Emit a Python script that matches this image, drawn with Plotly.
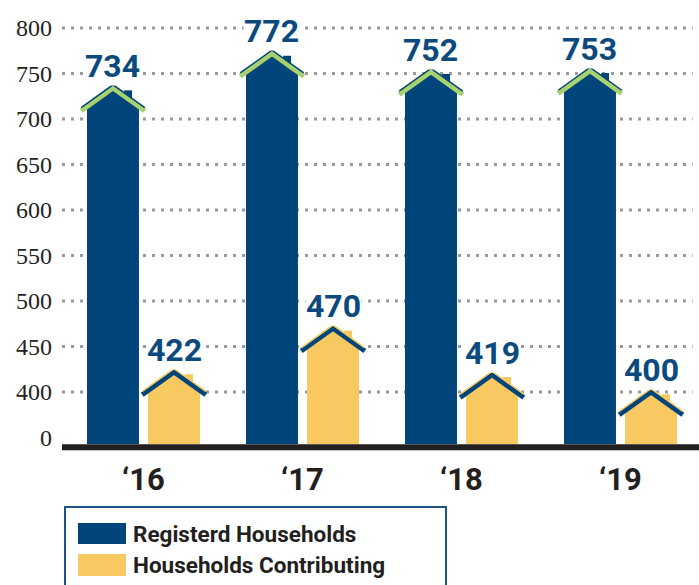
import plotly.graph_objects as go

# ---- data ----
years = ["\u201816", "\u201817", "\u201818", "\u201819"]
registered = [734, 772, 752, 753]
contributing = [422, 470, 419, 400]
series_names = ["Registerd Households", "Households Contributing"]
y_tick_vals = [350, 400, 450, 500, 550, 600, 650, 700, 750, 800]
y_tick_text = ["0", "400", "450", "500", "550", "600", "650", "700", "750", "800"]
grid_vals = [400, 450, 500, 550, 600, 650, 700, 750, 800]

# ---- style ----
BLUE = "#01457b"
YELLOW = "#f8c960"
GREEN = "#a8d26d"
LABEL_BLUE = "#0c4a7d"
DARK = "#231f20"
GRID = "#9a9a9a"
NARROW = "Roboto, Arial"

OFFSET = 0.192      # bar offset from category centre (x units)
BAR_W = 0.327       # bar width (x units)
ROOF_HALF = 0.20    # roof half width (x units)
ROOF_H = 25.0       # roof height (y units)

fig = go.Figure()


def add_house(xc, value, body, roof_col, edge_col):
    eave = value - ROOF_H
    hw = BAR_W / 2
    # body as a bar
    fig.add_trace(go.Bar(x=[xc], y=[eave], width=[BAR_W], marker=dict(color=body, line=dict(width=0)),
                         showlegend=False, hoverinfo="skip"))
    # chimney
    cx0, cx1 = xc + 0.07, xc + 0.12
    ctop = value - 2.5
    fig.add_trace(go.Scatter(x=[cx0, cx1, cx1, cx0, cx0], y=[eave - 2, eave - 2, ctop, ctop, eave - 2],
                             fill="toself", fillcolor=body, line=dict(width=0), mode="lines",
                             showlegend=False, hoverinfo="skip"))
    # roof fill (within bar width), overlapping the bar top slightly
    edge_y = eave + ROOF_H * (ROOF_HALF - hw) / ROOF_HALF
    low = eave - 2
    fig.add_trace(go.Scatter(x=[xc - hw, xc - hw, xc, xc + hw, xc + hw, xc - hw],
                             y=[low, edge_y, value, edge_y, low, low],
                             fill="toself", fillcolor=body, line=dict(width=0), mode="lines",
                             showlegend=False, hoverinfo="skip"))
    # roof band
    fig.add_trace(go.Scatter(x=[xc - ROOF_HALF, xc, xc + ROOF_HALF], y=[eave, value, eave],
                             mode="lines", line=dict(color=roof_col, width=5),
                             showlegend=False, hoverinfo="skip"))
    # thin edge above band
    fig.add_trace(go.Scatter(x=[xc - ROOF_HALF, xc, xc + ROOF_HALF], y=[eave + 3.6, value + 3.6, eave + 3.6],
                             mode="lines", line=dict(color=edge_col, width=1.5),
                             showlegend=False, hoverinfo="skip"))


annotations = []
for i, (r, c) in enumerate(zip(registered, contributing)):
    xb = i - OFFSET
    xy = i + OFFSET
    add_house(xb, r, BLUE, GREEN, BLUE)
    add_house(xy, c, YELLOW, BLUE, YELLOW)
    for xx, v in ((xb, r), (xy, c)):
        annotations.append(dict(x=xx, y=v, xref="x", yref="y", text=str(v), showarrow=False,
                                yanchor="middle", yshift=22, bgcolor="white", borderpad=0,
                                font=dict(family=NARROW, size=32, color=LABEL_BLUE, weight="bold")))

shapes = []
for g in grid_vals:
    shapes.append(dict(type="line", xref="paper", yref="y", x0=0, x1=0.99, y0=g, y1=g,
                       line=dict(color=GRID, width=3, dash="3px,6px"), layer="below"))
# baseline
shapes.append(dict(type="line", xref="paper", yref="paper", x0=0, x1=1, y0=-0.0075, y1=-0.0075,
                   line=dict(color=DARK, width=6), layer="above"))

# legend box
shapes.append(dict(type="rect", xref="paper", yref="paper", x0=0.0047, x1=0.6028, y0=-0.145, y1=-0.40,
                   line=dict(color="#1b5485", width=2), fillcolor="white"))
sw = [(-0.182, -0.2304, BLUE), (-0.2535, -0.3041, YELLOW)]
for (y0, y1, col) in sw:
    shapes.append(dict(type="rect", xref="paper", yref="paper", x0=0.0251, x1=0.1005, y0=y1, y1=y0,
                       line=dict(width=0), fillcolor=col))
for name, yc in zip(series_names, [-0.2074, -0.2788]):
    annotations.append(dict(x=0.1085, y=yc, xref="paper", yref="paper", text=name, showarrow=False,
                            xanchor="left", yanchor="middle",
                            font=dict(family=NARROW, size=22.5, color=DARK, weight="bold")))

fig.update_layout(
    width=699, height=585,
    margin=dict(l=62, r=0, t=10, b=141),
    paper_bgcolor="white", plot_bgcolor="white",
    barmode="overlay",
    showlegend=False,
    shapes=shapes,
    annotations=annotations,
    xaxis=dict(range=[-0.5126, 3.4937], tickvals=[0, 1, 2, 3], ticktext=years,
               showgrid=False, zeroline=False, showline=False, ticks="",
               ticklabelstandoff=14,
               tickfont=dict(family=NARROW, size=31, color=DARK, weight="bold")),
    yaxis=dict(range=[342.86, 819.78], tickvals=y_tick_vals, ticktext=y_tick_text,
               showgrid=False, zeroline=False, showline=False, ticks="",
               ticklabelstandoff=9,
               tickfont=dict(family="Liberation Serif", size=24, color=DARK)),
)

fig.write_html("out.html")
